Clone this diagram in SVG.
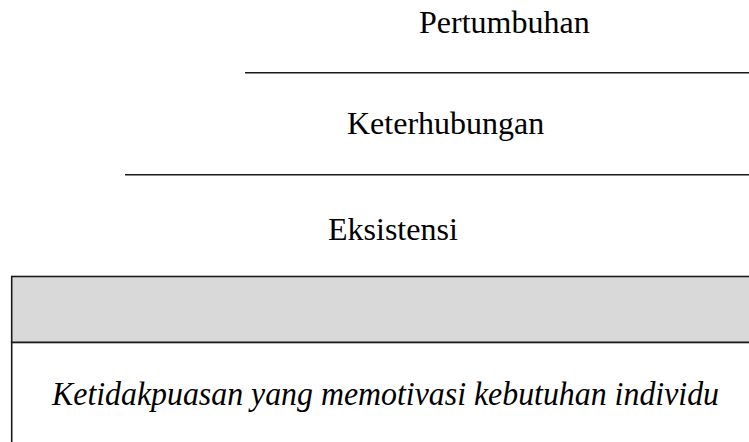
<svg xmlns="http://www.w3.org/2000/svg" width="749" height="442" viewBox="0 0 749 442">
<style>
.t{font-family:"Liberation Serif","Times New Roman",serif;font-size:32px;fill:#000}
.i{font-style:italic;font-size:33px}
.ln{stroke:#1a1a1a;stroke-width:1.6;fill:none}
</style>
<rect width="749" height="442" fill="#fff"/>
<g id="pertumbuhan"><text class="t" x="419" y="33">Pertumbuhan</text></g>
<g id="connectors">
<line class="ln" x1="245" y1="72.7" x2="749" y2="72.7"/>
<line class="ln" x1="125" y1="174.7" x2="749" y2="174.7"/>
</g>
<g id="keterhubungan"><text class="t" x="347" y="134">Keterhubungan</text></g>
<g id="eksistensi"><text class="t" x="328" y="240">Eksistensi</text></g>
<g id="box">
<rect x="11.7" y="276.5" width="745" height="66" fill="#d9d9d9" stroke="#1a1a1a" stroke-width="1.6"/>
<rect x="11.7" y="342.5" width="745" height="110" fill="#fff" stroke="#1a1a1a" stroke-width="1.6"/>
<text class="t i" x="52" y="405" textLength="667" lengthAdjust="spacingAndGlyphs">Ketidakpuasan yang memotivasi kebutuhan individu</text>
</g>
</svg>
